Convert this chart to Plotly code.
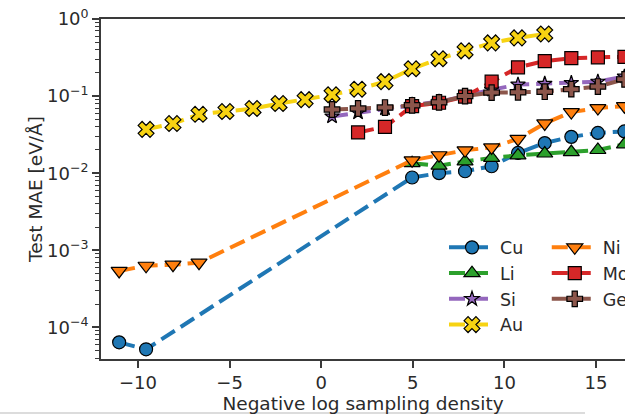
import plotly.graph_objects as go

# ---- data ----
cu_x = [-11.03, -9.56, 4.96, 6.43, 7.85, 9.30, 10.74, 12.20, 13.65, 15.10, 16.55]
cu_y = [6.4e-5, 5.2e-5, 0.0088, 0.0100, 0.0106, 0.0123, 0.0183, 0.0246, 0.0296, 0.0333, 0.0348]

li_x = [4.96, 6.43, 7.85, 9.30, 10.74, 12.20, 13.65, 15.10, 16.55]
li_y = [0.0135, 0.0125, 0.0142, 0.0158, 0.0170, 0.0180, 0.0188, 0.0200, 0.0237]

si_x = [0.59, 2.01, 3.48, 4.96, 6.43, 7.85, 9.30, 10.74, 12.20, 13.65, 15.10, 16.55]
si_y = [0.0544, 0.061, 0.069, 0.0777, 0.085, 0.100, 0.121, 0.141, 0.145, 0.148, 0.154, 0.179]

au_x = [-9.56, -8.09, -6.67, -5.20, -3.72, -2.30, -0.88, 0.59, 2.01, 3.48,
        4.96, 6.43, 7.85, 9.30, 10.74, 12.20]
au_y = [0.037, 0.044, 0.058, 0.063, 0.069, 0.080, 0.090, 0.104, 0.123, 0.154,
        0.226, 0.305, 0.386, 0.49, 0.569, 0.64]

ni_x = [-11.03, -9.56, -8.09, -6.67, 4.96, 6.43, 7.85, 9.30, 10.74, 12.20, 13.65, 15.10, 16.55]
ni_y = [5.4e-4, 6.3e-4, 6.5e-4, 6.9e-4, 0.0147, 0.0171, 0.0198, 0.0216, 0.0278, 0.0442, 0.062, 0.070, 0.074]

mo_x = [2.01, 3.48, 4.96, 6.43, 7.85, 9.30, 10.74, 12.20, 13.65, 15.10, 16.55]
mo_y = [0.0338, 0.040, 0.074, 0.082, 0.0985, 0.154, 0.236, 0.285, 0.310, 0.318, 0.323]

ge_x = [0.59, 2.01, 3.48, 4.96, 6.43, 7.85, 9.30, 10.74, 12.20, 13.65, 15.10, 16.55]
ge_y = [0.067, 0.069, 0.071, 0.076, 0.083, 0.100, 0.111, 0.112, 0.114, 0.123, 0.133, 0.165]

y_tickvals = [1e-4, 1e-3, 1e-2, 1e-1, 1e0]
y_ticktext = ["10<sup>\u22124</sup>", "10<sup>\u22123</sup>", "10<sup>\u22122</sup>",
              "10<sup>\u22121</sup>", "10<sup>0</sup>"]
y_minor = [m * 10.0 ** k for k in range(-5, 0) for m in range(2, 10)]
x_tickvals = [-10, -5, 0, 5, 10, 15]
x_ticktext = ["\u221210", "\u22125", "0", "5", "10", "15"]

series = [
    ("Cu", cu_x, cu_y, "#1f77b4", "circle", 13, "legend"),
    ("Li", li_x, li_y, "#2ca02c", "triangle-up", 14, "legend"),
    ("Si", si_x, si_y, "#9467bd", "star", 11, "legend"),
    ("Au", au_x, au_y, "#f7d312", "x", 14, "legend"),
    ("Ni", ni_x, ni_y, "#ff7f0e", "triangle-down", 14, "legend2"),
    ("Mo", mo_x, mo_y, "#d62728", "square", 13, "legend2"),
    ("Ge", ge_x, ge_y, "#8c564b", "cross", 13, "legend2"),
]

FONT = "DejaVu Sans"
TXT = "#2a2a2a"
AX = "#3a3a3a"

fig = go.Figure()
for name, xs, ys, col, sym, sz, lg in series:
    fig.add_trace(go.Scatter(
        x=xs, y=ys, name=name, mode="lines+markers", legend=lg,
        line=dict(color=col, width=4, dash="16px,7px"),
        marker=dict(symbol=sym, size=sz, color=col, line=dict(color="black", width=1.2)),
    ))

fig.update_layout(
    width=625, height=415,
    margin=dict(l=101, r=0, t=19, b=56, autoexpand=False),
    paper_bgcolor="white", plot_bgcolor="white",
    font=dict(family=FONT, size=17, color=TXT),
    legend=dict(xref="container", yref="container", x=0.7104, y=0.447,
                xanchor="left", yanchor="top", bgcolor="rgba(0,0,0,0)",
                font=dict(size=17.5), itemwidth=46, tracegroupgap=0),
    legend2=dict(xref="container", yref="container", x=0.8748, y=0.447,
                 xanchor="left", yanchor="top", bgcolor="rgba(0,0,0,0)",
                 font=dict(size=17.5), itemwidth=46, tracegroupgap=0),
    shapes=[dict(type="line", xref="paper", yref="paper",
                 x0=-101 / 524, x1=484 / 524, y0=(359 - 413) / 340, y1=(359 - 413) / 340,
                 line=dict(color="#d0d0d0", width=1.5))],
)
fig.update_xaxes(
    range=[-12.02, 16.58], showgrid=False, zeroline=False,
    showline=True, linecolor=AX, linewidth=1.6, mirror=True,
    ticks="outside", ticklen=7, tickwidth=1.5, tickcolor=AX,
    tickmode="array", tickvals=x_tickvals, ticktext=x_ticktext,
    tickfont=dict(size=18, color=TXT),
    title=dict(text="Negative log sampling density", font=dict(size=18.5, color=TXT), standoff=5),
)
fig.update_yaxes(
    type="log", range=[-4.41, 0], showgrid=False, zeroline=False,
    showline=True, linecolor=AX, linewidth=1.6,
    ticks="outside", ticklen=7, tickwidth=1.5, tickcolor=AX,
    tickmode="array", tickvals=y_tickvals, ticktext=y_ticktext,
    tickfont=dict(size=18, color=TXT),
    minor=dict(tickmode="array", tickvals=y_minor, ticks="outside", ticklen=4,
               tickwidth=1, tickcolor=AX, showgrid=False),
    title=dict(text="Test MAE [eV/\u00c5]", font=dict(size=18.5, color=TXT), standoff=0),
)

fig.write_html(
    "out.html",
    config={"displayModeBar": False},
    post_script="document.body.style.margin='0';document.body.style.overflow='hidden';",
)
